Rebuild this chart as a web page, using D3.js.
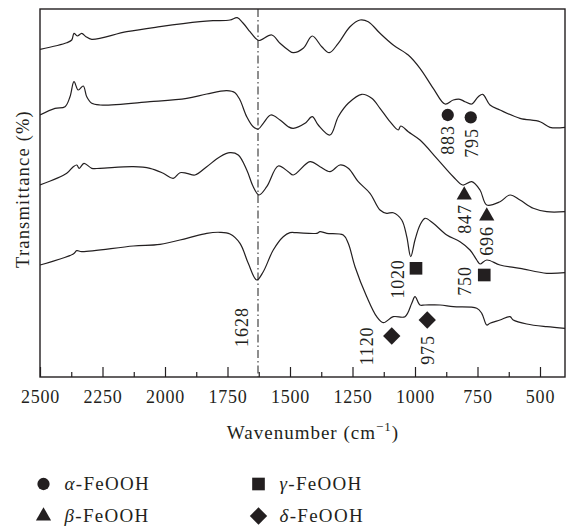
<!DOCTYPE html>
<html>
<head>
<meta charset="utf-8">
<script src="https://cdn.jsdelivr.net/npm/d3@7/dist/d3.min.js"></script>
<style>
  html, body { margin: 0; padding: 0; background: #fff; }
  svg { display: block; }
  text { font-family: "Liberation Serif", "Times New Roman", serif; fill: #231f20; }
</style>
</head>
<body>
<svg id="chart" width="569" height="526"></svg>
<script>
// ---------- data (wavenumber cm^-1, relative transmittance) ----------
const majorTicks = [2500, 2250, 2000, 1750, 1500, 1250, 1000, 750, 500];
const minorTicks = [2375, 2125, 1875, 1625, 1375, 1125, 875, 625];

const curve1 = [[2500,327.7],[2393,334.3],[2373,337],[2364,343.7],[2351,341],[2333,343.7],[2316,340.3],[2293,337.7],[2153,345.3],[2020,350.3],[1860,355.3],[1808,356.3],[1740,357],[1711,359.3],[1688,354],[1660,345.3],[1638,338.7],[1624,336.5],[1573,342],[1540,333.7],[1507,327],[1487,324.3],[1447,328.7],[1411,341],[1373,330.3],[1343,324.3],[1307,333.7],[1260,350.3],[1220,357],[1187,355.3],[1140,343.7],[1087,332],[1027,322],[980,308.7],[927,288.7],[880,273],[847,277],[820,277.7],[800,275.3],[773,273],[747,280.3],[729,282.7],[700,272],[660,267],[580,258.7],[500,255.3],[460,249.7],[400,249.7]];

const curve2 = [[2500,262],[2440,268.7],[2400,270.3],[2380,280.3],[2364,295.3],[2347,287],[2327,291],[2313,280.3],[2293,273.7],[2260,272],[2060,275.3],[1913,278.7],[1833,283],[1753,286.3],[1720,284.3],[1700,277],[1673,260.3],[1647,250.3],[1627,248],[1607,253.7],[1577,262],[1540,257],[1507,250.3],[1487,248.7],[1440,253.7],[1411,260.3],[1387,252],[1340,242],[1307,260.3],[1267,273.7],[1213,282.7],[1173,278.7],[1140,268.7],[1100,255.3],[1067,247],[1057,251],[1027,245.3],[980,237],[913,218.7],[847,200.3],[809,192],[773,195.3],[740,187],[713,172],[660,175.3],[620,182],[580,177],[527,168.7],[473,165.3],[400,165.3]];

const curve3 = [[2500,192],[2393,203.7],[2367,210.3],[2353,212],[2343,208.7],[2324,213.7],[2293,208.7],[2260,208.7],[2127,210.3],[2060,208.7],[2007,203.7],[1967,198.7],[1940,204.3],[1913,203.7],[1880,202],[1833,210.3],[1780,220.3],[1740,224.3],[1707,222],[1673,207],[1647,190.3],[1624,182],[1593,190.3],[1547,211],[1507,205.3],[1487,202],[1420,215.3],[1380,210.3],[1340,205.3],[1300,212],[1267,208.7],[1227,195.3],[1180,183.7],[1140,167],[1113,163.7],[1087,164.3],[1053,157],[1033,140.3],[1017,120.3],[1000,137],[980,152],[960,158.7],[927,153.7],[873,142],[820,135.3],[780,127],[753,117],[740,113],[713,117],[660,112],[580,108.7],[473,103.7],[400,104.3]];

const curve4 = [[2500,112],[2367,123],[2353,126.3],[2333,125.3],[2127,131],[2020,132.7],[1913,138.7],[1833,143.7],[1780,144.7],[1740,143],[1700,133.7],[1667,113.7],[1633,97],[1607,105.3],[1567,127],[1527,140.3],[1500,144.3],[1473,144.3],[1393,143.7],[1380,145.3],[1353,143.7],[1287,142],[1267,133.7],[1240,110.3],[1193,80.3],[1153,60.3],[1127,54.3],[1087,60.3],[1040,60.3],[1013,73.7],[1000,80.3],[980,72],[960,72],[900,72],[847,70.3],[753,68.7],[733,63.7],[713,52],[700,53.7],[660,57],[620,60.3],[607,57],[553,53],[473,50.3],[400,48.7]];

// band annotations
const bandLabels = ["883", "795", "847", "696", "1020", "750", "1120", "975"];
const bandPhase  = ["α", "α", "β", "β", "γ", "γ", "δ", "δ"];
const markerWn   = [869, 777, 803, 713, 996, 723, 1093, 951];
const markerT    = [262, 259.7, 182, 161, 108.7, 102, 41, 57];
const labelWn    = [867, 773, 800, 713, 1067, 800, 1193, 947];
const labelT     = [237, 234, 158, 136, 98, 96, 31, 27];

const refLine = 1628;
const refLabelWn = 1693, refLabelT = 50;

const legendNames = ["α", "γ", "β", "δ"];

// ---------- drawing ----------
const svg = d3.select("#chart");
const pL = 40, pR = 565, pT = 9, pB = 377;
const x = d3.scaleLinear().domain([2500, 400]).range([pL, pR]);
const y = d3.scaleLinear().domain([0, 368]).range([pB, pT]);

const ink = "#231f20";

svg.append("defs").append("clipPath").attr("id", "clip")
  .append("rect").attr("x", pL).attr("y", pT).attr("width", pR - pL).attr("height", pB - pT);

// dash-dot reference line
svg.append("line")
  .attr("x1", x(refLine)).attr("x2", x(refLine))
  .attr("y1", pT).attr("y2", pB)
  .attr("stroke", "#444").attr("stroke-width", 1.2)
  .attr("stroke-dasharray", "8,3,1.5,3");

svg.append("text")
  .attr("transform", `translate(${x(refLabelWn)},${y(refLabelT)}) rotate(-90)`)
  .attr("text-anchor", "middle").attr("dominant-baseline", "central")
  .attr("font-size", 18).attr("letter-spacing", 1)
  .text(String(refLine));

// curves
const line = d3.line().x(d => x(d[0])).y(d => y(d[1])).curve(d3.curveCatmullRom.alpha(0.5));
const g = svg.append("g").attr("clip-path", "url(#clip)");
[curve1, curve2, curve3, curve4].forEach(c => {
  g.append("path").datum(c).attr("d", line)
    .attr("fill", "none").attr("stroke", ink).attr("stroke-width", 1.2);
});

// marker symbols (diamond = square turned 45°)
const squareDiamond = {
  draw(ctx, size) {
    const r = Math.sqrt(size / 2);
    ctx.moveTo(0, -r); ctx.lineTo(r, 0); ctx.lineTo(0, r); ctx.lineTo(-r, 0); ctx.closePath();
  }
};
const symFor = {
  "α": d3.symbol().type(d3.symbolCircle).size(118),
  "β": d3.symbol().type(d3.symbolTriangle).size(100),
  "γ": d3.symbol().type(d3.symbolSquare).size(160),
  "δ": d3.symbol().type(squareDiamond).size(150)
};

bandLabels.forEach((lab, i) => {
  svg.append("path")
    .attr("d", symFor[bandPhase[i]]())
    .attr("transform", `translate(${x(markerWn[i])},${y(markerT[i])})`)
    .attr("fill", ink);
  svg.append("text")
    .attr("transform", `translate(${x(labelWn[i])},${y(labelT[i])}) rotate(-90)`)
    .attr("text-anchor", "middle").attr("dominant-baseline", "central")
    .attr("font-size", 18).attr("letter-spacing", 0.8)
    .text(lab);
});

// axes
const axMajor = d3.axisBottom(x).tickValues(majorTicks).tickSize(-10).tickPadding(0).tickFormat(d3.format("d"));
const axG = svg.append("g").attr("transform", `translate(0,${pB})`).call(axMajor);
axG.select(".domain").remove();
axG.selectAll(".tick line").attr("stroke", ink).attr("stroke-width", 1.2);
axG.selectAll(".tick text")
  .attr("y", 26).attr("dy", 0)
  .attr("font-size", 18).attr("letter-spacing", 0.8)
  .attr("font-family", "Liberation Serif").attr("fill", ink);

const axMinor = d3.axisBottom(x).tickValues(minorTicks).tickSize(-5).tickFormat("");
const axM = svg.append("g").attr("transform", `translate(0,${pB})`).call(axMinor);
axM.select(".domain").remove();
axM.selectAll(".tick line").attr("stroke", ink).attr("stroke-width", 1.2);

// frame
svg.append("rect").attr("x", pL).attr("y", pT).attr("width", pR - pL).attr("height", pB - pT)
  .attr("fill", "none").attr("stroke", ink).attr("stroke-width", 1.4);

// axis titles
const xt = svg.append("text").attr("x", 313).attr("y", 439)
  .attr("text-anchor", "middle").attr("font-size", 19).attr("letter-spacing", 1);
xt.append("tspan").text("Wavenumber (cm");
xt.append("tspan").attr("font-size", 13).attr("dy", -8).text("−1");
xt.append("tspan").attr("dy", 8).text(")");

svg.append("text")
  .attr("transform", `translate(29,189) rotate(-90)`)
  .attr("text-anchor", "middle").attr("font-size", 18.5).attr("letter-spacing", 1.2)
  .text("Transmittance (%)");

// legend
const legendX = [43.5, 258.5, 43.5, 258.5];
const legendY = [484, 484, 516, 516];
legendNames.forEach((p, i) => {
  svg.append("path").attr("d", symFor[p]())
    .attr("transform", `translate(${legendX[i]},${legendY[i]})`).attr("fill", ink);
  const t = svg.append("text").attr("x", legendX[i] + 21).attr("y", legendY[i] + 6)
    .attr("font-size", 19).attr("letter-spacing", 1.3);
  t.append("tspan").attr("font-style", "italic").text(p);
  t.append("tspan").text("-FeOOH");
});
</script>
</body>
</html>
